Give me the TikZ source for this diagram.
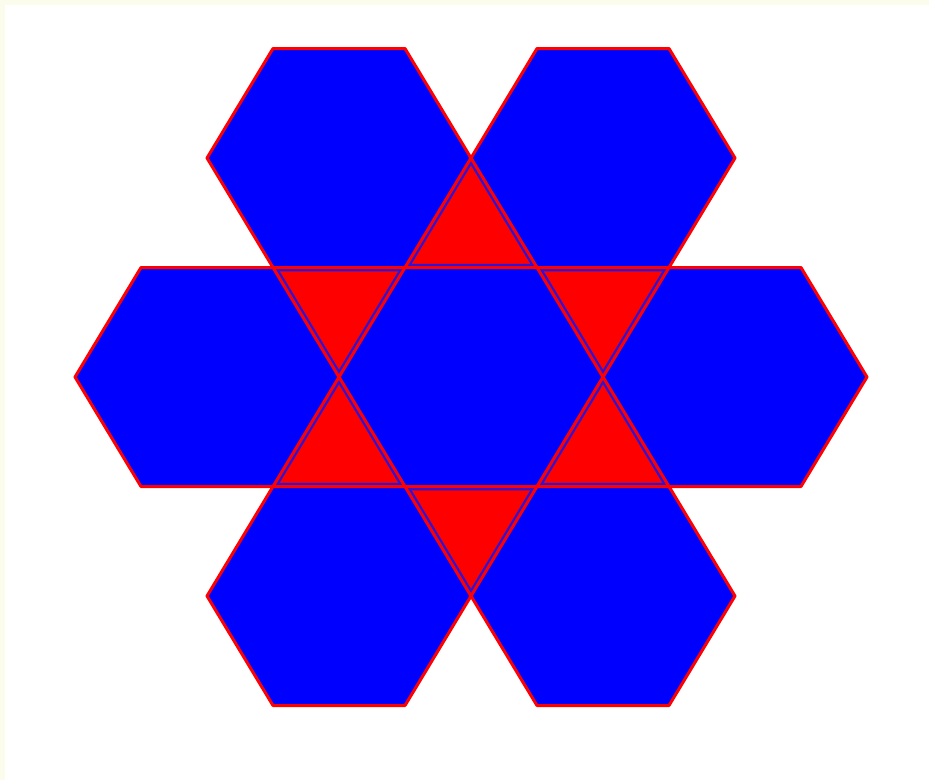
\documentclass[tikz,border=0pt]{standalone}
\definecolor{hexblue}{RGB}{0,0,255}
\definecolor{trired}{RGB}{255,0,0}
\definecolor{edgeblue}{RGB}{45,20,215}
\definecolor{cream}{RGB}{252,252,236}
\begin{document}
\begin{tikzpicture}[x=1pt,y=-1pt,
  hexface/.style={fill=hexblue,draw=trired,line width=3pt,line join=round},
  triface/.style={fill=trired,draw=edgeblue,line width=7.5pt,line join=miter}]
\useasboundingbox (0,0) rectangle (929,780);
\fill[white] (0,0) rectangle (929,780);
\fill[cream] (0,0) rectangle (5,780);
\fill[cream] (0,0) rectangle (929,5);
\def\a{132}
\def\b{109.5}
\def\cx{471}
\def\cy{377}
% triangles (star points)
\foreach \sx/\sy/\tx/\ty/\ux/\uy in {
  0/-2/-0.5/-1/0.5/-1,
  -1.5/-1/-0.5/-1/-1/0,
  1.5/-1/0.5/-1/1/0,
  -1.5/1/-0.5/1/-1/0,
  1.5/1/0.5/1/1/0,
  0/2/-0.5/1/0.5/1}{
  \begin{scope}
  \clip (\cx+\sx*\a,\cy+\sy*\b) -- (\cx+\tx*\a,\cy+\ty*\b) -- (\cx+\ux*\a,\cy+\uy*\b) -- cycle;
  \path[triface] (\cx+\sx*\a,\cy+\sy*\b) -- (\cx+\tx*\a,\cy+\ty*\b) -- (\cx+\ux*\a,\cy+\uy*\b) -- cycle;
  \end{scope}
}
% hexagons
\foreach \hx/\hy in {0/0,-1/-2,1/-2,-2/0,2/0,-1/2,1/2}{
  \path[hexface] (\cx+\hx*\a-\a,\cy+\hy*\b) -- (\cx+\hx*\a-0.5*\a,\cy+\hy*\b-\b) -- (\cx+\hx*\a+0.5*\a,\cy+\hy*\b-\b) -- (\cx+\hx*\a+\a,\cy+\hy*\b) -- (\cx+\hx*\a+0.5*\a,\cy+\hy*\b+\b) -- (\cx+\hx*\a-0.5*\a,\cy+\hy*\b+\b) -- cycle;
}
\end{tikzpicture}
\end{document}
